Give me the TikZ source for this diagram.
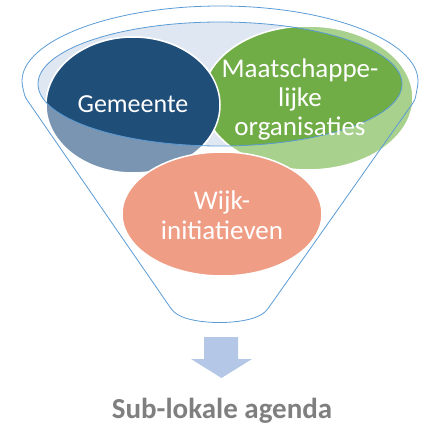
\documentclass[tikz,border=0pt]{standalone}
\usepackage{fontspec}
\setmainfont{Carlito}
\usetikzlibrary{shapes.geometric}
\definecolor{funnelblue}{HTML}{5B9BD5}
\definecolor{innerfill}{HTML}{DFE7F3}
\definecolor{gemdark}{HTML}{1F4E79}
\definecolor{gemlight}{HTML}{7A95B2}
\definecolor{orgdark}{HTML}{70AD47}
\definecolor{orglight}{HTML}{A9D18E}
\definecolor{wijkfill}{HTML}{EF9D85}
\definecolor{arrowblue}{HTML}{B4C7E7}
\definecolor{agendagrey}{HTML}{7F7F7F}

\begin{document}
\begin{tikzpicture}[x=1pt,y=-1pt]
    \tikzset{%
      bubble/.style={draw=white, line width=1.5pt},
      funnel/.style={draw=funnelblue, line width=0.8pt},
      bubbletext/.style={text=white, align=center, inner sep=0pt,
        font=\fontsize{27}{29}\selectfont},
      agenda/.style={text=agendagrey, inner sep=0pt,
        font=\bfseries\fontsize{29}{32}\selectfont},
    }
    \useasboundingbox (0,0) rectangle (424,428);
    % top of the funnel
    \fill[innerfill] (220,84) ellipse [x radius=182, y radius=62];
    % parts outside the funnel rim
    \path[bubble, fill=orglight] (308,98) ellipse [x radius=105, y radius=72];
    \path[bubble, fill=gemlight] (133,105) ellipse [x radius=87, y radius=68];
    \begin{scope}
      \clip (220,84) ellipse [x radius=182, y radius=62];
      \path[bubble, fill=orgdark] (308,98) ellipse [x radius=105, y radius=72];
      \path[bubble, fill=gemdark] (133,105) ellipse [x radius=87, y radius=68];
    \end{scope}
    \path[bubble, fill=wijkfill] (222,214) ellipse [x radius=100, y radius=62];
    % outlines
    \draw[funnel] (220,84) ellipse [x radius=182, y radius=62];
    \draw[funnel, rounded corners=3pt] (25,97) -- (22,84)
      arc [start angle=180, end angle=360, x radius=198, y radius=78]
      -- (415,100) -- (267,310)
      .. controls (250,326) and (189,326) .. (172,310) -- cycle;
    %\draw[funnel] (220,84) ellipse [x radius=198, y radius=78];
    \node[bubbletext, font=\fontsize{26}{29}\selectfont] (gem) at (133,104) {Gemeente};
    \node[bubbletext] (org) at (300,99) {Maatschappe-\\lijke\\organisaties};
    \node[bubbletext, font=\fontsize{27}{30}\selectfont] (wijk) at (222,215)
      {Wijk-\\initiatieven};
    % arrow and result
    \fill[arrowblue] (204,337) -- (238,337) -- (238,359) -- (252,359)
      -- (221.5,378) -- (191,359) -- (204,359) -- cycle;
    \node[agenda] (result) at (222,411) {Sub-lokale agenda};
\end{tikzpicture}
\end{document}
